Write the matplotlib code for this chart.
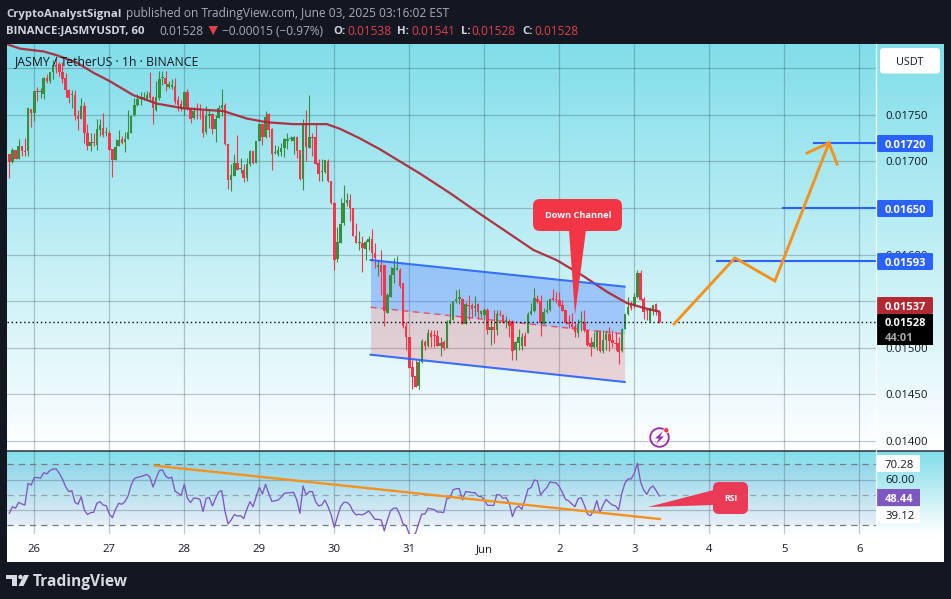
import numpy as np
import matplotlib
matplotlib.use("Agg")
import matplotlib.pyplot as plt
from matplotlib.patches import FancyBboxPatch, Polygon, Circle, Rectangle
from matplotlib.colors import LinearSegmentedColormap

# Prices are listed in units of 0.00001 USDT, one value per hourly candle
opens = [1708,1699,1712,1703,1717,1711,1711,1756,1752,1776,
1774,1772,1790,1786,1796,1803,1805,1796,1790,1777,
1771,1771,1749,1746,1759,1731,1716,1721,1718,1734,
1736,1730,1730,1713,1702,1716,1724,1721,1724,1731,
1750,1760,1767,1767,1767,1773,1769,1755,1768,1789,
1789,1780,1780,1781,1766,1762,1757,1775,1757,1747,
1756,1756,1754,1732,1749,1751,1735,1747,1757,1761,
1719,1680,1684,1698,1692,1691,1682,1697,1711,1698,
1722,1740,1726,1751,1735,1709,1708,1710,1714,1722,
1724,1722,1726,1712,1681,1741,1714,1726,1726,1698,
1689,1689,1700,1679,1655,1595,
1612,1634,1655,1659,1650,1620,1612,1612,1606,1613,
1617,1602,1587,1589,1589,1537,1555,1578,1584,1584,
1569,1523,1512,1479,1470,1459,1485,1506,1502,1516,
1514,1513,1502,1506,1500,1528,1530,1550,1552,1552,
1526,1546,1546,1543,1547,1536,1535,1541,1519,1522,
1519,1536,1535,1528,1529,1528,1498,1505,1502,1513,
1516,1536,1539,1552,1550,1526,1538,1541,1553,1552,
1551,1546,1541,1527,1526,1523,1516,1528,1528,1519,
1505,1501,1501,1518,1497,1508,1515,1508,1505,1505,
1497,1520,1536,1547,1545,1554,1580,1552,1540,1529,
1541,1547,1538]
highs = [1708,1714,1712,1724,1717,1725,1758,1756,1776,1780,
1779,1791,1794,1796,1809,1811,1807,1807,1795,1778,
1777,1777,1755,1768,1764,1740,1731,1731,1745,1745,
1752,1737,1734,1713,1724,1734,1727,1732,1755,1750,
1768,1772,1774,1774,1776,1796,1770,1786,1797,1797,
1797,1786,1788,1789,1770,1766,1776,1778,1758,1758,
1763,1762,1754,1759,1756,1752,1750,1761,1778,1763,
1719,1697,1708,1728,1704,1697,1704,1712,1711,1722,
1741,1741,1754,1752,1736,1718,1716,1720,1725,1731,
1727,1727,1727,1712,1746,1755,1771,1731,1740,1703,
1703,1702,1703,1679,1656,1630,
1661,1675,1666,1665,1650,1634,1625,1620,1616,1620,
1627,1612,1594,1605,1589,1559,1587,1596,1599,1586,
1569,1528,1512,1487,1487,1487,1509,1508,1520,1519,
1519,1519,1512,1508,1530,1548,1550,1562,1563,1553,
1549,1557,1548,1556,1548,1541,1543,1543,1530,1541,
1541,1541,1536,1534,1531,1530,1507,1520,1516,1517,
1538,1548,1564,1557,1557,1543,1551,1553,1563,1560,
1560,1551,1541,1535,1537,1528,1531,1539,1541,1519,
1512,1517,1519,1519,1519,1519,1522,1519,1517,1512,
1521,1536,1555,1550,1559,1584,1583,1554,1543,1544,
1546,1548,1539]
lows = [1682,1698,1703,1703,1706,1706,1706,1737,1743,1765,
1768,1767,1784,1784,1788,1795,1792,1784,1769,1763,
1757,1744,1734,1745,1720,1712,1711,1716,1712,1727,
1726,1727,1712,1683,1702,1716,1719,1710,1724,1731,
1749,1759,1760,1766,1766,1765,1740,1754,1766,1782,
1776,1779,1778,1762,1754,1754,1750,1755,1741,1745,
1745,1745,1726,1729,1736,1729,1721,1747,1749,1718,
1670,1668,1684,1691,1688,1678,1679,1695,1697,1698,
1722,1718,1725,1726,1691,1708,1706,1706,1705,1713,
1722,1708,1704,1680,1669,1700,1714,1706,1697,1679,
1679,1688,1678,1654,1583,1592,
1612,1632,1652,1636,1620,1612,1605,1581,1594,1605,
1593,1586,1577,1557,1523,1537,1555,1569,1584,1564,
1521,1498,1478,1456,1458,1456,1484,1498,1501,1501,
1501,1502,1491,1498,1500,1526,1530,1548,1547,1526,
1526,1530,1532,1534,1531,1533,1530,1515,1503,1505,
1514,1534,1527,1521,1512,1487,1487,1498,1498,1502,
1516,1535,1538,1548,1513,1526,1537,1540,1550,1548,
1544,1539,1525,1521,1520,1512,1512,1518,1517,1502,
1491,1500,1498,1496,1494,1498,1497,1501,1498,1483,
1496,1520,1535,1541,1543,1553,1551,1531,1530,1528,
1535,1535,1527]
closes = [1699,1712,1703,1716,1711,1710,1757,1752,1776,1774,
1774,1790,1786,1796,1803,1801,1796,1788,1777,1768,
1771,1749,1745,1759,1730,1717,1721,1720,1735,1739,
1728,1730,1712,1702,1715,1723,1720,1724,1732,1749,
1761,1767,1769,1769,1771,1768,1757,1769,1788,1789,
1783,1783,1782,1764,1761,1756,1775,1756,1746,1754,
1755,1755,1730,1749,1751,1735,1746,1757,1760,1719,
1680,1685,1698,1691,1692,1682,1697,1711,1698,1722,
1740,1726,1748,1734,1708,1709,1712,1714,1724,1724,
1725,1726,1711,1681,1741,1715,1726,1725,1697,1686,
1689,1701,1679,1655,1594,1613,
1633,1655,1659,1650,1620,1612,1613,1607,1613,1617,
1602,1596,1589,1581,1539,1557,1578,1586,1584,1566,
1523,1512,1478,1469,1458,1485,1507,1502,1516,1512,
1513,1502,1505,1500,1528,1530,1550,1552,1554,1526,
1547,1545,1542,1545,1538,1539,1541,1519,1522,1519,
1536,1535,1527,1530,1523,1497,1506,1512,1512,1502,
1536,1539,1553,1549,1527,1538,1541,1552,1551,1551,
1545,1540,1527,1526,1522,1517,1526,1528,1519,1503,
1501,1506,1518,1497,1508,1515,1507,1505,1504,1496,
1520,1536,1544,1543,1554,1580,1551,1538,1539,1543,
1546,1538,1528]

ma_hours = [-0.9,3.4,10.9,15.1,21.6,27,32.2,39.7,47.2,55.7,68.5,76,82.4,90.9,101.6,105.8,
            112,118.6,125,131.4,134.6,141,149.6,158,167.7,175.2,183.7,191.3,197.6,205,208]
ma_values = [1826,1821,1818,1814,1806,1795,1786,1771,1762,1757,1754,1746,1742,1740,1740,1735,
             1725,1713,1700,1687,1680,1666,1646,1627,1605,1594,1577,1560,1548,1541,1539]

rsi_values = [37.9,42.2,41.2,45.1,44.0,43.3,57.5,56.4,61.3,61.3,
60.8,64.5,63.7,65.9,66.9,66.9,64.1,60.4,55.4,52.1,
52.7,45.1,43.8,48.8,40.1,37.0,38.3,38.5,44.4,45.5,
43.3,42.9,37.4,35.0,40.5,44.4,43.8,45.5,49.2,56.4,
60.6,61.5,61.9,62.6,63.4,61.5,55.1,60.8,65.9,66.3,
62.4,60.8,61.5,52.5,51.0,49.7,56.9,47.7,44.9,47.9,
47.7,47.0,39.0,47.7,48.2,42.7,47.7,51.9,52.7,39.4,
30.9,33.5,37.0,36.1,36.3,34.4,40.5,45.5,42.2,48.8,
54.9,50.5,56.9,51.0,45.7,46.0,46.6,48.4,51.0,51.2,
51.4,51.6,46.6,37.9,55.8,49.9,52.1,52.1,45.5,42.7,
43.3,46.6,42.2,36.8,28.7,35.7,42.2,44.9,45.1,43.3,
39.0,36.8,37.2,36.8,37.9,39.4,36.8,33.9,33.9,33.5,
26.3,33.5,39.6,41.2,41.2,36.8,30.9,29.6,24.3,23.0,
24.8,31.3,37.4,37.4,41.2,40.7,40.3,38.7,38.7,38.3,
47.5,47.9,53.2,54.0,54.0,46.6,52.1,51.9,51.4,51.4,
49.2,48.8,
47.0,43.1,43.1,42.9,50.1,49.9,47.7,48.1,44.4,35.7,
41.1,42.7,40.5,46.6,53.8,54.7,59.7,59.1,49.9,52.5,
54.7,58.4,58.0,57.8,55.4,51.4,47.0,46.0,44.0,42.2,
47.3,48.1,43.3,37.4,36.3,39.6,46.2,38.3,43.3,47.0,
44.9,43.3,42.7,40.1,51.0,57.6,60.4,60.4,64.1,70.7,
58.4,53.2,50.3,54.3,55.8,52.7,49.2]

day_labels = ["26","27","28","29","30","31","Jun","2","3","4","5","6"]
price_ticks = [1400,1450,1500,1550,1600,1650,1700,1750,1800]
price_labels = ["0.01400","0.01450","0.01500","","0.01600","","0.01700","0.01750",""]
target_levels = [1720,1650,1593]
target_starts = [257.5,247.6,226.5]
channel_hours = [115.6,196.9]
channel_top = [1594.2,1565.6]
channel_mid = [1543.5,1514.8]
channel_bottom = [1492.6,1463.3]
path_hours = [212.7,232.2,245,262.3]
path_values = [1525.5,1596.4,1571.7,1719.8]
head_hours = [255.3,262.3,264.9]
head_values = [1709,1719.8,1697.2]
rsi_trend_hours = [46.6,208.2]
rsi_trend_values = [69.1,34.1]
last_price = 1528

BG = "#131722"
UP = "#388e3c"
DOWN = "#f5364a"
ORANGE = "#f5921e"
BLUE = "#2962ff"
FONT = "Open Sans"
TXT = "#131722"

plt.rcParams["font.family"] = FONT
W, H = 951, 599
fig = plt.figure(figsize=(W/100, H/100), dpi=100, facecolor=BG)
grad = LinearSegmentedColormap.from_list("g", ["#80deea", "#ffffff"])
G = np.linspace(0, 1, 256).reshape(-1, 1)

def pane(x0, y0, x1, y1, zorder=1):
    a = fig.add_axes([x0/W, 1-y1/H, (x1-x0)/W, (y1-y0)/H], zorder=zorder)
    a.imshow(G, cmap=grad, aspect="auto", extent=[0, 1, 0, 1], transform=a.transAxes, zorder=0)
    return a

date_bg = fig.add_axes([7/W, 1-562/H, 937/W, 112/H], zorder=0)
date_bg.set_facecolor("white"); date_bg.set_xticks([]); date_bg.set_yticks([])
for s in date_bg.spines.values(): s.set_visible(False)

strip1 = pane(876, 44, 944, 450, 1); strip1.axis("off")
strip2 = pane(876, 451, 944, 534, 1); strip2.axis("off")

ax = pane(7, 44, 876, 450, 2)
rs = pane(7, 451, 876, 534, 2)

hours = np.arange(len(closes))
o, h, l, c = [np.array(v, float)/1e5 for v in (opens, highs, lows, closes)]
P = lambda v: np.asarray(v, float)/1e5
day_pos = 8 + 24*np.arange(len(day_labels))

GRID = dict(color="#2c3e4a", alpha=0.28, lw=0.9, zorder=1)
for a in (ax, rs):
    for d in day_pos:
        a.axvline(d, **GRID)
for t in price_ticks:
    ax.axhline(t/1e5, **GRID)

ax.fill_between(channel_hours, P(channel_mid), P(channel_top), color=BLUE, alpha=0.3, lw=0, zorder=2)
ax.fill_between(channel_hours, P(channel_bottom), P(channel_mid), color="#f23645", alpha=0.2, lw=0, zorder=2)
ax.plot(channel_hours, P(channel_mid), color="#f23645", lw=1.1, ls=(0, (4, 3)), alpha=0.75, zorder=3)

colors = np.where(c >= o, UP, DOWN)
ax.vlines(hours, l, h, colors=colors, lw=0.8, zorder=4)
ax.bar(hours, np.maximum(np.abs(c-o), 0.000012), bottom=np.minimum(o, c), width=0.8, color=colors, lw=0, zorder=4)

ax.plot(ma_hours, P(ma_values), color="#ad2436", lw=1.6, alpha=0.92, zorder=5, solid_capstyle="round")
ax.plot(channel_hours, P(channel_top), color=BLUE, lw=1.5, zorder=6, alpha=0.9)
ax.plot(channel_hours, P(channel_bottom), color=BLUE, lw=1.5, zorder=6, alpha=0.9)
ax.axhline(last_price/1e5, color="black", lw=1.0, ls=(0, (1, 2)), zorder=6)
for lvl, st in zip(target_levels, target_starts):
    ax.plot([st, 278], [lvl/1e5]*2, color=BLUE, lw=1.5, zorder=6)
ax.plot(path_hours, P(path_values), color=ORANGE, lw=2.1, zorder=7, solid_joinstyle="miter")
ax.plot(head_hours, P(head_values), color=ORANGE, lw=2.1, zorder=7, solid_joinstyle="miter")

PX0, PXS = 9.3, 3.125
ax.set_xlim((7-PX0)/PXS, (876-PX0)/PXS)
ax.set_ylim(0.0139034, 0.0182597)
ax.set_xticks([])
ax.yaxis.tick_right()
ax.set_yticks([t/1e5 for t in price_ticks])
ax.set_yticklabels(price_labels, fontsize=8.2, color=TXT)
ax.tick_params(axis="y", length=0, pad=6.5)
for s in ax.spines.values(): s.set_visible(False)

rs.axhspan(30, 70, color="#7e57c2", alpha=0.08, lw=0, zorder=1)
for t in (40, 60):
    rs.axhline(t, **GRID)
for t, al in ((70, 1), (50, 0.6), (30, 1)):
    rs.axhline(t, color="#787b86", lw=0.9, ls=(0, (5, 4)), alpha=al, zorder=2)
rs.plot(hours, rsi_values, color="#7e57c2", lw=0.95, zorder=4)
rs.plot(rsi_trend_hours, rsi_trend_values, color=ORANGE, lw=1.7, zorder=5)
rs.set_xlim(ax.get_xlim())
rs.set_ylim(24.3, 78.7)
rs.set_yticks([])
rs.set_xticks(day_pos)
rs.set_xticklabels(day_labels, fontsize=8.2, color=TXT)
rs.tick_params(axis="x", length=0, pad=7)
for s in rs.spines.values(): s.set_visible(False)

ov = fig.add_axes([0, 0, 1, 1], zorder=10)
ov.set_xlim(0, W); ov.set_ylim(H, 0); ov.axis("off"); ov.patch.set_alpha(0)

def box(x0, y0, x1, y1, col, r=1.5, **kw):
    ov.add_patch(FancyBboxPatch((x0, y0), x1-x0, y1-y0, boxstyle=f"round,pad=0,rounding_size={r}",
                                fc=col, ec="none", **kw))
def label(x, y, s, col="white", fs=8.2, w="normal", ha="left"):
    ov.text(x, y, s, color=col, fontsize=fs, fontweight=w, ha=ha, va="center_baseline")

ov.plot([7, 944], [450.5, 450.5], color="#2a2e39", lw=1.1)
ov.plot([876, 876], [44, 534], color="white", lw=0.9, alpha=0.8)

box(880, 48, 940, 73.5, "white", r=3)
label(910, 61, "USDT", TXT, 7.8, ha="center")
for ytop, s in ((135, "0.01720"), (200, "0.01650"), (253, "0.01593")):
    box(877, ytop, 933, ytop+17, BLUE)
    label(885, ytop+8.7, s, w="bold", fs=8)
box(877, 297, 933, 314, "#b22833")
label(885, 305.5, "0.01537", w="bold", fs=8)
ov.add_patch(Rectangle((877, 314), 56, 31, fc="black", ec="none"))
label(885, 322, "0.01528", w="bold", fs=8)
label(885, 337, "44:01", "#a8a8a8", w="bold", fs=8)

ov.add_patch(Rectangle((877, 455), 43, 17, fc="white", ec="none"))
label(885, 463.7, "70.28", TXT)
label(885, 479, "60.00", TXT)
ov.add_patch(Rectangle((877, 489), 43, 17, fc="#7e57c2", ec="none"))
label(885, 497.7, "48.44", w="bold", fs=8)
ov.add_patch(Rectangle((877, 507), 43, 16, fc="white", ec="none"))
label(885, 515.3, "39.12", TXT)

RED = "#f23645"
box(533, 199, 622, 231, RED, r=7)
ov.add_patch(Polygon([(569, 230), (586, 230), (575, 315)], fc=RED, ec="none"))
label(578, 214.5, "Down Channel", "white", 6.6, "bold", "center")
box(713, 482, 748, 514, "#ea3a55", r=6)
ov.add_patch(Polygon([(714, 490), (714, 505), (648, 507)], fc="#ea3a55", ec="none"))
label(731, 497.5, "RSI", "white", 6.2, "bold", "center")

ov.add_patch(Circle((659.5, 437.5), 9.3, fc="none", ec="#9c27b0", lw=1.3))
ov.add_patch(Polygon([(663, 431), (655, 438.5), (659, 438.5), (656, 444), (664, 436.5), (660, 436.5)],
                     fc="#9c27b0", ec="none"))
ov.add_patch(Circle((666.3, 430.3), 2.6, fc=RED, ec="white", lw=0.5))

label(15, 60.5, "JASMY / TetherUS · 1h · BINANCE", "#131722", 8.8, w="medium")
G1 = "#d1d4dc"; G2 = "#a8acb8"; HR = "#e0404c"
label(6.5, 12.5, "CryptoAnalystSignal", G1, 8.2, "bold")
label(126, 12.5, "published on TradingView.com, June 03, 2025 03:16:02 EST", G2, 8.6)
label(6.5, 30, "BINANCE:JASMYUSDT, 60", G1, 8.2, "bold")
label(159, 30, "0.01528", G2, 8.6)
ov.add_patch(Polygon([(208.5, 26), (218, 26), (213.2, 35)], fc=HR, ec="none"))
label(222, 30, "−0.00015 (−0.97%)", G2, 8.6)
for x, k, xv, v in ((333, "O:", 347, "0.01538"), (397, "H:", 411, "0.01541"),
                    (461, "L:", 471, "0.01528"), (522, "C:", 534, "0.01528")):
    label(x, 30, k, G1, 8.2, "bold")
    label(xv, 30, v, HR, 8.6)

LG = "#d8dbe2"
ov.add_patch(Polygon([(6, 575), (17, 575), (17, 586), (11.5, 586), (11.5, 579), (6, 579)], fc=LG, ec="none"))
ov.add_patch(Circle((20.5, 577), 2.2, fc=LG, ec="none"))
ov.add_patch(Polygon([(24, 575), (29, 575), (23.5, 586), (18.5, 586)], fc=LG, ec="none"))
label(33, 580.5, "TradingView", LG, 11.2, "bold")

fig.savefig("out.png", dpi=100, facecolor=BG)
